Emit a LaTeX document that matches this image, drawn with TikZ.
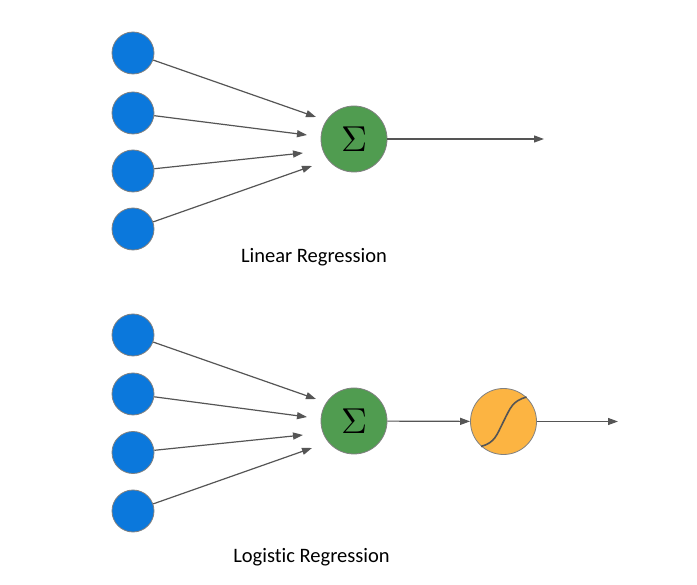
\documentclass[tikz,border=0pt]{standalone}
\usepackage{fontspec}
\setmainfont{Carlito}[Ligatures=NoCommon]
\usetikzlibrary{arrows.meta}
\definecolor{inblue}{RGB}{11,120,220}
\definecolor{sumgreen}{RGB}{80,156,80}
\definecolor{sigorange}{RGB}{252,180,66}
\definecolor{edgegray}{RGB}{128,128,128}
\definecolor{arrowgray}{RGB}{85,85,85}
\tikzset{
  inputnode/.style={circle,fill=inblue,draw=edgegray,line width=0.8pt,minimum size=42pt,inner sep=0pt},
  sumnode/.style={circle,fill=sumgreen,draw=edgegray,line width=0.8pt,minimum size=66pt,inner sep=0pt},
  signode/.style={circle,fill=sigorange,draw=edgegray,line width=0.8pt,minimum size=66pt,inner sep=0pt},
  conn/.style={draw=arrowgray,line width=1.2pt,-{Triangle[length=10pt,width=7pt]}},
  caption/.style={font=\fontsize{20.5}{22}\selectfont,anchor=base}
}
\newcommand{\bigsig}{\scalebox{3.6}{$\Sigma$}}
\begin{document}
\begin{tikzpicture}[x=1pt,y=-1pt]
\useasboundingbox[fill=white] (0,0) rectangle (697,585);
% Linear regression
\node[inputnode] (a1) at (133,53) {};
\node[inputnode] (a2) at (133,113) {};
\node[inputnode] (a3) at (133,171) {};
\node[inputnode] (a4) at (133,229) {};
\node[sumnode] (s1) at (354,139) {};
\node (sg1) at (354,139) {\bigsig};
\coordinate (t1) at (316,117);
\coordinate (t2) at (307,135);
\coordinate (t3) at (303,153);
\coordinate (t4) at (312,166);
\coordinate (o1) at (544,139);
\draw[conn] (a1) -- (t1);
\draw[conn] (a2) -- (t2);
\draw[conn] (a3) -- (t3);
\draw[conn] (a4) -- (t4);
\draw[conn] (s1) -- (o1);
\node[caption] (l1) at (314,263) {Linear Regression};
% Logistic regression
\node[inputnode] (b1) at (133,335) {};
\node[inputnode] (b2) at (133,394) {};
\node[inputnode] (b3) at (133,452.5) {};
\node[inputnode] (b4) at (133,511) {};
\node[sumnode] (s2) at (354,421) {};
\node (sg2) at (354,421) {\bigsig};
\node[signode] (g2) at (503.5,421.5) {};
\coordinate (u1) at (316,399);
\coordinate (u2) at (307,417);
\coordinate (u3) at (303,435);
\coordinate (u4) at (312,448);
\coordinate (o2) at (618,421.5);
\draw[conn] (b1) -- (u1);
\draw[conn] (b2) -- (u2);
\draw[conn] (b3) -- (u3);
\draw[conn] (b4) -- (u4);
\draw[conn] (s2) -- (g2);
\draw[conn] (g2) -- (o2);
\draw[draw=arrowgray,line width=1.6pt] (g2.center) ++(-22.5,25) .. controls +(14,-4) and +(-7,14) .. (g2.center)
  .. controls +(7,-14) and +(-14,4) .. ++(23,-24.5);
\node[caption] (l2) at (311.5,562) {Logistic Regression};
\end{tikzpicture}
\end{document}
